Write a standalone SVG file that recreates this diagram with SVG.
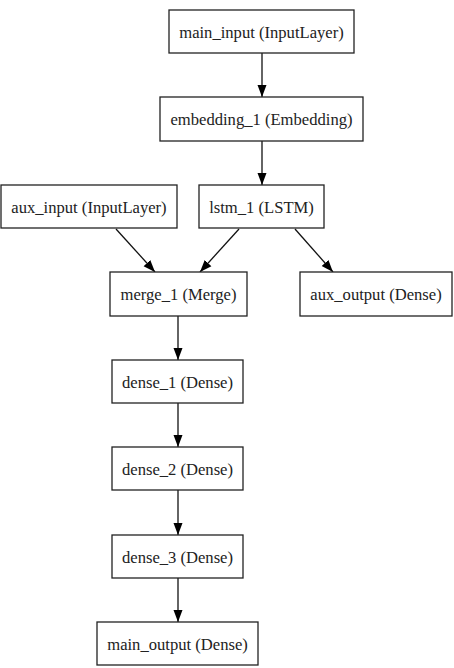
<svg xmlns="http://www.w3.org/2000/svg" width="454" height="668" viewBox="0 0 454 668">
<style>
.box{fill:#fff;stroke:#222;stroke-width:1.3}
.lbl{font-family:"Liberation Serif","Times New Roman",serif;font-size:16.6px;fill:#222;text-anchor:middle}
.edge{stroke:#111;stroke-width:1.3;fill:none}
</style>
<defs>
<marker id="ah" viewBox="0 0 12 10" refX="12" refY="5" markerWidth="12" markerHeight="10" markerUnits="userSpaceOnUse" orient="auto">
<path d="M0,0.5 L12,5 L0,9.5 Z" fill="#000"/>
</marker>
</defs>
<rect width="454" height="668" fill="#fff"/>
<g id="edges">
<line class="edge" x1="262" y1="53" x2="262" y2="97" marker-end="url(#ah)"/>
<line class="edge" x1="262" y1="141" x2="262" y2="185" marker-end="url(#ah)"/>
<line class="edge" x1="116" y1="229" x2="155" y2="272" marker-end="url(#ah)"/>
<line class="edge" x1="239" y1="229" x2="200" y2="272" marker-end="url(#ah)"/>
<line class="edge" x1="295" y1="229" x2="333" y2="272" marker-end="url(#ah)"/>
<line class="edge" x1="178" y1="316" x2="178" y2="360" marker-end="url(#ah)"/>
<line class="edge" x1="178" y1="403" x2="178" y2="447" marker-end="url(#ah)"/>
<line class="edge" x1="178" y1="490" x2="178" y2="535" marker-end="url(#ah)"/>
<line class="edge" x1="178" y1="578" x2="178" y2="622" marker-end="url(#ah)"/>
</g>
<g id="main_input"><rect class="box" x="169" y="10" width="185" height="43"/><text class="lbl" x="261.5" y="37.5">main_input (InputLayer)</text></g>
<g id="embedding_1"><rect class="box" x="160" y="97" width="203" height="44"/><text class="lbl" x="261.5" y="125">embedding_1 (Embedding)</text></g>
<g id="aux_input"><rect class="box" x="1" y="185" width="176" height="43"/><text class="lbl" x="89" y="212.5">aux_input (InputLayer)</text></g>
<g id="lstm_1"><rect class="box" x="199" y="185" width="125" height="43"/><text class="lbl" x="261.5" y="212.5">lstm_1 (LSTM)</text></g>
<g id="merge_1"><rect class="box" x="110" y="272" width="137" height="44"/><text class="lbl" x="178.5" y="300">merge_1 (Merge)</text></g>
<g id="aux_output"><rect class="box" x="300" y="272" width="152" height="44"/><text class="lbl" x="376" y="300">aux_output (Dense)</text></g>
<g id="dense_1"><rect class="box" x="112" y="360" width="131" height="43"/><text class="lbl" x="177.5" y="387.5">dense_1 (Dense)</text></g>
<g id="dense_2"><rect class="box" x="112" y="447" width="131" height="43"/><text class="lbl" x="177.5" y="474.5">dense_2 (Dense)</text></g>
<g id="dense_3"><rect class="box" x="112" y="535" width="131" height="43"/><text class="lbl" x="177.5" y="562.5">dense_3 (Dense)</text></g>
<g id="main_output"><rect class="box" x="97" y="622" width="161" height="43"/><text class="lbl" x="177.5" y="649.5">main_output (Dense)</text></g>
</svg>
